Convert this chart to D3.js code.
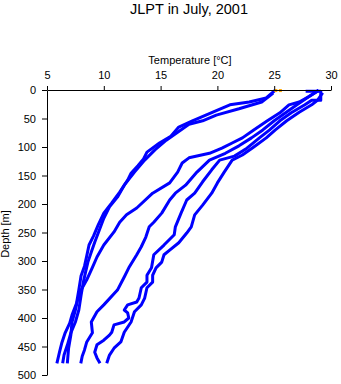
<!DOCTYPE html>
<html>
<head>
<meta charset="utf-8">
<script src="https://cdn.jsdelivr.net/npm/d3@7"></script>
<style>
  html, body { margin: 0; padding: 0; background: #fff; }
  svg { display: block; font-family: "Liberation Sans", Arial, sans-serif; }
</style>
</head>
<body>
<svg id="chart" width="341" height="384"></svg>
<script>
// ---- data ----
const title = "JLPT in July, 2001";
const xLabel = "Temperature [°C]";
const yLabel = "Depth [m]";
const tempTicks = [5, 10, 15, 20, 25, 30];
const depthTicks = [0, 50, 100, 150, 200, 250, 300, 350, 400, 450, 500];

const depthA = [2, 14, 21, 26, 39, 54, 65, 81, 93, 109, 121, 133, 146, 158, 179, 198, 216, 237, 256, 272, 291, 309, 326, 351, 374, 395, 409, 426, 444, 460, 477];
const tempA  = [25.0, 24.3, 22.8, 21.1, 19.6, 17.8, 16.6, 15.9, 14.9, 13.8, 13.5, 13.0, 12.4, 12.1, 11.4, 10.7, 10.0, 9.5, 9.1, 8.7, 8.5, 8.3, 8.0, 7.8, 7.6, 7.2, 7.0, 6.6, 6.3, 6.1, 5.9];

const depthB = [7, 21, 33, 44, 54, 60, 74, 88, 105, 123, 144, 167, 188, 205, 225, 246, 267, 284, 302, 319, 337, 360, 386, 407, 426, 447, 465, 477];
const tempB  = [24.8, 23.9, 21.9, 19.9, 18.7, 17.5, 16.5, 15.5, 14.5, 13.6, 12.7, 11.8, 11.2, 10.5, 10.0, 9.6, 9.2, 8.9, 8.6, 8.4, 8.2, 8.0, 7.8, 7.5, 7.1, 6.8, 6.5, 6.4];

const depthC = [2, 11, 21, 26, 40, 54, 70, 84, 93, 102, 111, 119, 128, 144, 163, 181, 207, 219, 232, 249, 272, 293, 311, 333, 351, 368, 386, 407, 430, 453, 477];
const tempC  = [28.8, 28.1, 27.2, 26.3, 25.5, 24.4, 23.2, 22.2, 21.3, 20.4, 19.3, 17.5, 16.9, 16.5, 15.8, 14.3, 12.9, 12.0, 11.4, 10.9, 10.0, 9.4, 9.0, 8.5, 8.0, 7.7, 7.5, 7.2, 7.1, 6.9, 6.8];

const depthD = [2, 11, 26, 40, 54, 70, 84, 98, 111, 123, 144, 167, 181, 193, 216, 232, 240, 258, 275, 289, 312, 328, 351, 377, 389, 407, 426, 442, 456, 467, 477];
const tempD  = [28.8, 28.1, 27.0, 26.0, 25.0, 24.0, 23.0, 21.9, 20.7, 19.3, 18.2, 17.2, 16.3, 15.8, 15.1, 14.4, 14.0, 13.7, 13.3, 12.9, 12.2, 11.8, 11.2, 10.0, 9.4, 8.9, 9.0, 8.5, 8.3, 8.1, 8.0];

const depthE = [2, 2, 18, 18, 26, 40, 54, 70, 84, 102, 116, 123, 140, 161, 181, 193, 216, 240, 254, 272, 289, 312, 325, 337, 347, 365, 372, 377, 386, 391, 400, 407, 412, 425, 430, 439, 447, 460, 470, 477];
const tempE  = [27.9, 29.1, 29.1, 28.3, 27.7, 26.5, 25.5, 24.6, 23.7, 22.6, 21.5, 20.2, 19.5, 18.7, 18.0, 17.3, 16.8, 16.3, 16.2, 15.3, 14.4, 14.2, 13.8, 13.8, 13.3, 13.1, 12.9, 12.1, 11.8, 12.1, 12.2, 11.8, 10.9, 10.7, 10.5, 10.0, 9.4, 9.2, 9.4, 9.6];

const depthF = [7, 18, 26, 39, 54, 70, 84, 100, 114, 123, 144, 163, 181, 202, 219, 240, 251, 268, 281, 289, 302, 312, 325, 337, 347, 365, 377, 389, 407, 425, 442, 453, 465, 477];
const tempF  = [29.2, 28.8, 28.3, 27.2, 26.1, 25.1, 24.3, 23.2, 22.2, 21.3, 20.6, 20.0, 19.5, 18.7, 18.0, 17.7, 17.3, 16.6, 15.8, 15.3, 15.1, 14.6, 14.3, 14.3, 13.8, 13.6, 13.3, 12.7, 12.4, 11.8, 11.5, 10.9, 10.5, 10.3];

const surfaceTemp  = [25.1, 25.5];
const surfaceDepth = [1, 1];

// ---- chart ----
const svg = d3.select("#chart");
const x = d3.scaleLinear().domain([5, 30]).range([47, 331]);
const y = d3.scaleLinear().domain([0, 500]).range([90, 375]);

const profiles = [
  [tempA, depthA], [tempB, depthB], [tempC, depthC],
  [tempD, depthD], [tempE, depthE], [tempF, depthF]
].map(([t, d]) => t.map((v, i) => ({ t: v, d: d[i] })));

const line = d3.line().x(p => x(p.t)).y(p => y(p.d));

svg.append("g").selectAll("path")
  .data(profiles)
  .join("path")
  .attr("d", line)
  .attr("fill", "none")
  .attr("stroke", "#0000ff")
  .attr("stroke-width", 3)
  .attr("stroke-linejoin", "round")
  .attr("stroke-linecap", "square");

svg.append("g").selectAll("rect")
  .data(surfaceTemp.map((t, i) => ({ t, d: surfaceDepth[i] })))
  .join("rect")
  .attr("x", p => x(p.t) - 1)
  .attr("y", p => y(p.d) - 1.5)
  .attr("width", 3)
  .attr("height", 3)
  .attr("fill", "#ffa500");

// axes
const xAxis = svg.append("g")
  .attr("transform", `translate(0,${y(0)})`)
  .call(d3.axisTop(x).tickValues(tempTicks).tickFormat(d3.format("d")).tickSize(4).tickSizeOuter(0).tickPadding(7));
const yAxis = svg.append("g")
  .attr("transform", `translate(${x(5)},0)`)
  .call(d3.axisLeft(y).tickValues(depthTicks).tickFormat(d3.format("d")).tickSize(5).tickSizeOuter(0).tickPadding(6));

[xAxis, yAxis].forEach(g => {
  g.selectAll("path, line").attr("stroke", "#000");
  g.selectAll("text").attr("fill", "#000").style("font-size", "11px")
    .style("font-family", "'Liberation Sans', Arial, sans-serif");
});

svg.append("text")
  .attr("x", 189).attr("y", 14)
  .attr("text-anchor", "middle")
  .style("font-size", "14.5px")
  .attr("fill", "#000")
  .text(title);

svg.append("text")
  .attr("x", 190).attr("y", 64)
  .attr("text-anchor", "middle")
  .style("font-size", "11px")
  .attr("fill", "#000")
  .text(xLabel);

svg.append("text")
  .attr("transform", "translate(9,234) rotate(-90)")
  .attr("text-anchor", "middle")
  .style("font-size", "11px")
  .attr("fill", "#000")
  .text(yLabel);
</script>
</body>
</html>
